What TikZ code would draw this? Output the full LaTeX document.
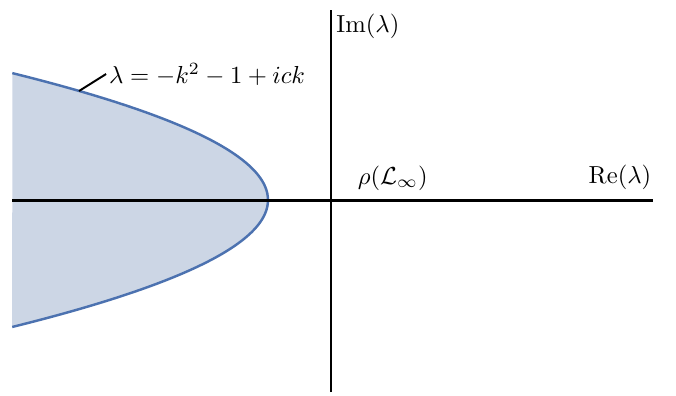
\documentclass[tikz,border=0pt]{standalone}
\usepackage{amsmath,amssymb}
\usepackage{tikz}
\usetikzlibrary{arrows.meta, positioning, calc}
\definecolor{specblue}{RGB}{76,114,176}
\definecolor{specfill}{RGB}{204,214,229}

\begin{document}
\begin{tikzpicture}[x=0.9cm, y=0.9cm]
  \useasboundingbox (-5.254,-3.095) rectangle (5.476,3.175);
  % essential spectrum
  \fill[specfill] plot[domain=-2.015:2.015, samples=60, smooth] ({-\x*\x-1}, \x) -- cycle;
  \draw[specblue, line width=1pt] plot[domain=-2.015:2.015, samples=60, smooth] ({-\x*\x-1}, \x);
  % axes
  \coordinate (xl) at (-5.06, 0);
  \coordinate (xr) at (5.11, 0);
  \coordinate (yb) at (0, -3.05);
  \coordinate (yt) at (0, 3.02);
  \draw[line width=1.2pt] (xl) -- (xr);
  \draw[line width=1.2pt] (yb) -- (yt);
  \node[anchor=north west, inner sep=1pt] (im) at ($(yt)+(0.04,-0.02)$) {$\mathrm{Im}(\lambda)$};
  \node[anchor=south east, inner sep=1pt] (re) at ($(xr)+(0.02,0.12)$) {$\mathrm{Re}(\lambda)$};
  \node (rho) at (0.98, 0.35) {$\rho(\mathcal{L}_\infty)$};
  % curve label
  \coordinate (cpt) at (-4.0, 1.73);
  \node[anchor=west, inner sep=1pt] (lam) at (-3.57, 2.0) {$\lambda=-k^2-1+ick$};
  \draw[thick] (cpt) -- (lam.west);
\end{tikzpicture}
\end{document}
